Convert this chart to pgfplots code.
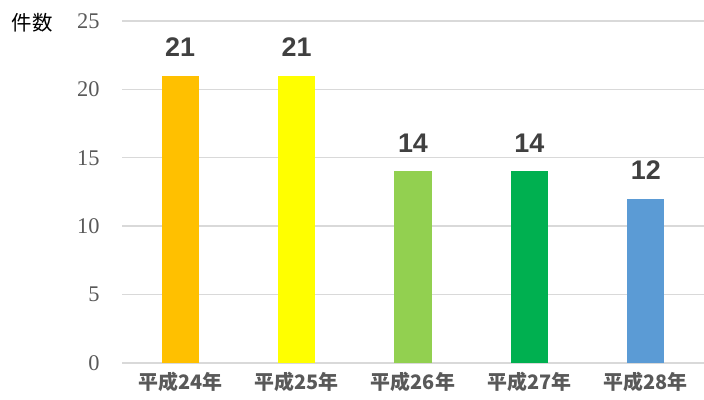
\documentclass[border=0pt]{standalone}
\usepackage{pgfplots}
\pgfplotsset{compat=1.18}
\usepackage{fontspec}
\setmainfont{Liberation Sans}
\newfontfamily\cjk{Noto Sans CJK JP}
\newfontfamily\serif{Liberation Serif}
\definecolor{c1}{HTML}{FFC000}
\definecolor{c2}{HTML}{FFFF00}
\definecolor{c3}{HTML}{92D050}
\definecolor{c4}{HTML}{00B050}
\definecolor{c5}{HTML}{5B9BD5}
\definecolor{gridc}{HTML}{D9D9D9}
\definecolor{labc}{HTML}{595959}
\definecolor{valc}{HTML}{404040}
\begin{document}
\begin{tikzpicture}
\useasboundingbox (0,0) rectangle (704bp,400bp);
\begin{axis}[
  at={(122bp,37bp)}, anchor=south west,
  scale only axis, width=582bp, height=342bp,
  ymin=0, ymax=25, ytick={0,5,...,25},
  xmin=-0.5, xmax=4.5,
  xtick={0,1,2,3,4},
  xticklabels={平成24年,平成25年,平成26年,平成27年,平成28年},
  axis line style={draw=none},
  major tick length=0pt,
  ymajorgrids, grid style={gridc, line width=1.4bp},
  /pgf/number format/assume math mode=true,
  yticklabel style={font=\serif\fontsize{22.5}{22.5}\selectfont, text=labc, xshift=-19bp},
  xticklabel style={font=\cjk\bfseries\fontsize{20}{20}\selectfont, text=labc, yshift=-6bp},
  ylabel={件数},
  ylabel style={font=\cjk\fontsize{20.5}{20.5}\selectfont, text=black, rotate=-90, anchor=center, at={(axis description cs:-0.154,0.996)}},
  ybar, bar width=37bp, bar shift=0pt,
  nodes near coords,
  every node near coord/.append style={font=\bfseries\fontsize{27}{27}\selectfont, text=valc, anchor=south, inner sep=0pt, yshift=19bp},
]
\addplot[fill=c1, draw=none] coordinates {(0,21)};
\addplot[fill=c2, draw=none] coordinates {(1,21)};
\addplot[fill=c3, draw=none] coordinates {(2,14)};
\addplot[fill=c4, draw=none] coordinates {(3,14)};
\addplot[fill=c5, draw=none] coordinates {(4,12)};
\end{axis}
\end{tikzpicture}
\end{document}
